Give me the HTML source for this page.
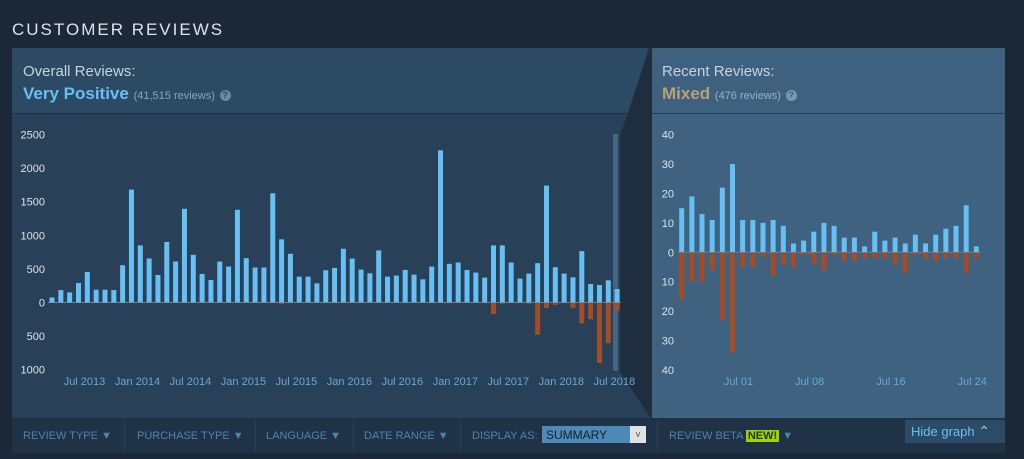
<!DOCTYPE html>
<html><head><meta charset="utf-8"><style>
body{margin:0;width:1024px;height:459px;background:#1b2838;font-family:"Liberation Sans",sans-serif;overflow:hidden;position:relative}
.abs{position:absolute}
#title{left:12px;top:20px;font-size:17px;letter-spacing:2px;color:#dfe3e6}
.flt{font-size:11px;color:#4f84ab;top:430px}
.sep{top:420px;width:1px;height:32px;background:#2a3f54}
</style></head><body>
<div id="title" class="abs">CUSTOMER REVIEWS</div>
<div class="abs" style="left:12px;top:48px;width:640px;height:66px;background:#2c4a63"></div>
<div class="abs" style="left:12px;top:114px;width:640px;height:304px;background:#284058"></div>
<div class="abs" style="left:12px;top:113px;width:640px;height:1px;background:#1c2f41"></div>
<div class="abs" style="left:652px;top:48px;width:353px;height:66px;background:#3e6180"></div>
<div class="abs" style="left:652px;top:114px;width:353px;height:304px;background:#3e6280"></div>
<div class="abs" style="left:652px;top:113px;width:353px;height:1px;background:#253c52"></div>
<div class="abs" style="left:23px;top:63px;font-size:15px;color:#c6d4df">Overall Reviews:</div>
<div class="abs" style="left:23px;top:84px;font-size:17px;color:#66c0f4;font-weight:bold">Very Positive <span style="font-size:11px;font-weight:normal;color:#8ba6b6">(41,515 reviews)</span> <span style="display:inline-block;width:11px;height:11px;border-radius:6px;background:#6b8aa1;color:#2c4a63;font-size:9px;text-align:center;line-height:11px;vertical-align:1px">?</span></div>
<div class="abs" style="left:662px;top:63px;font-size:15px;color:#c6d4df">Recent Reviews:</div>
<div class="abs" style="left:662px;top:84px;font-size:17px;color:#b9a074;font-weight:bold">Mixed <span style="font-size:11px;font-weight:normal;color:#9ab0c0">(476 reviews)</span> <span style="display:inline-block;width:11px;height:11px;border-radius:6px;background:#7d99ae;color:#3e6180;font-size:9px;text-align:center;line-height:11px;vertical-align:1px">?</span></div>
<svg class="abs" style="left:0;top:0" width="1024" height="459" id="svg">
<polygon points="649,48 652,48 652,418 651,418 620,372 620,135 628,113" fill="#1e2e3f"/>
<rect x="613" y="134" width="5" height="237" fill="#46667f"/>
<g id="left"></g><g id="right"></g>
</svg>
<div class="abs" style="left:12px;top:418px;width:993px;height:35px;background:#1f3246"></div>
<div class="abs sep" style="left:124px"></div><div class="abs sep" style="left:255px"></div><div class="abs sep" style="left:353px"></div><div class="abs sep" style="left:460px"></div><div class="abs sep" style="left:657px"></div>
<div class="abs flt" style="left:23px">REVIEW TYPE &#9660;</div>
<div class="abs flt" style="left:137px">PURCHASE TYPE &#9660;</div>
<div class="abs flt" style="left:266px">LANGUAGE &#9660;</div>
<div class="abs flt" style="left:364px">DATE RANGE &#9660;</div>
<div class="abs flt" style="left:472px">DISPLAY AS:</div>
<div class="abs" style="left:542px;top:426px;width:104px;height:17px;background:#4d8ab8"><span style="position:absolute;left:4px;top:2px;font-size:12px;color:#10212f">SUMMARY</span><span style="position:absolute;right:0;top:0;width:16px;height:17px;background:#dfe3e6;color:#555;font-size:9px;text-align:center;line-height:17px">v</span></div>
<div class="abs flt" style="left:669px">REVIEW BETA <span style="background:#a4d007;color:#203a0c;padding:0 2px;font-weight:bold">NEW!</span> &#9660;</div>
<div class="abs" style="left:905px;top:420px;width:100px;height:23px;background:#2b4b66;color:#66c0f4;font-size:13px;line-height:23px;text-indent:6px">Hide graph <span style="font-size:14px;color:#a9c7dd">&#8963;</span></div>
<script>
const overallUp=[75,185,150,290,455,190,190,185,555,1680,850,655,410,900,610,1395,710,425,335,610,535,1380,660,520,520,1625,940,725,385,385,285,480,515,800,655,490,435,775,385,400,485,415,345,535,2265,575,595,485,445,370,850,850,595,355,430,585,1740,525,430,375,765,275,260,330,200];
const overallDown=[0,0,0,0,0,0,0,0,0,5,5,5,5,5,5,5,5,5,5,5,5,5,5,5,5,10,25,10,5,5,5,10,10,10,10,10,10,10,5,5,10,10,5,10,10,10,10,5,5,10,170,20,10,10,20,480,85,35,10,85,310,250,900,605,120];
const overallYTicks=[2500,2000,1500,1000,500,0,-500,-1000];
const overallXLabels=[[3,"Jul 2013"],[9,"Jan 2014"],[15,"Jul 2014"],[21,"Jan 2015"],[27,"Jul 2015"],[33,"Jan 2016"],[39,"Jul 2016"],[45,"Jan 2017"],[51,"Jul 2017"],[57,"Jan 2018"],[63,"Jul 2018"]];
const recentUp=[15,19,13,11,22,30,11,11,10,11,9,3,4,7,10,9,5,5,2,7,4,5,3,6,3,6,8,9,16,2];
const recentDown=[16,10,10,6,23,34,5,5,1.5,8,4,5,1,4,6,1,3,3,2,2,2,4,7,1,2,3,2,2,7,2];
const recentYTicks=[40,30,20,10,0,-10,-20,-30,-40];
const recentXLabels=[[5,"Jul 01"],[12,"Jul 08"],[20,"Jul 16"],[28,"Jul 24"]];
const NS="http://www.w3.org/2000/svg";
function mk(tag,attrs,parent,txt){const e=document.createElementNS(NS,tag);for(const k in attrs)e.setAttribute(k,attrs[k]);if(txt!==undefined)e.textContent=txt;parent.appendChild(e);return e;}
function draw(g,up,down,yt,xl,x0,step,zero,ppu,ylx,name){
  const X=i=>x0+i*step, Y=v=>zero-v*ppu;
  yt.forEach(v=>{const t=mk('text',{x:ylx,y:Y(v)+4,'text-anchor':'end','font-size':11,fill:'#dfe3e6','font-family':'Liberation Sans'},g,String(Math.abs(v)));
    
    });
  const base=mk('rect',{x:X(0)-4,y:zero-0.5,width:X(up.length-1)-X(0)+8,height:1,fill:'#6e7f8e'},g);
  
  
  up.forEach((v,i)=>{const r=mk('rect',{x:X(i)-2.5,y:Y(v),width:5,height:Math.max(0,zero-Y(v)),fill:'#66c0f4'},g);
    
    });
  down.forEach((v,i)=>{const r=mk('rect',{x:X(i)-2.5,y:zero,width:5,height:v*ppu,fill:'#a34c25'},g);
    
    });
  xl.forEach(([i,s])=>{const t=mk('text',{x:X(i)+6,y:385,'text-anchor':'middle','font-size':11,fill:'#66a8d8','font-family':'Liberation Sans'},g,s);
    
    });
}
draw(document.getElementById('left'),overallUp,overallDown,overallYTicks,overallXLabels,52,8.83,302.5,0.0672,45,'overall');
draw(document.getElementById('right'),recentUp,recentDown,recentYTicks,recentXLabels,681.7,10.16,252.3,2.94,674,'recent');
</script>
</body></html>
